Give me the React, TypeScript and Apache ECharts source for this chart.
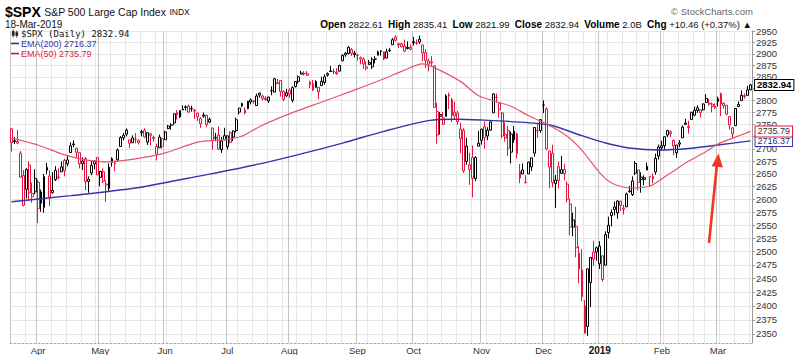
import React, { useEffect, useRef } from "react";
import * as echarts from "echarts";

// ---------- DATA ----------
// rows: [date, open, high, low, close]
const MAR_2018: [string, number, number, number, number][] = [
  ["2018-03-19", 2741.38, 2741.38, 2694.59, 2712.92],
  ["2018-03-20", 2715.05, 2724.22, 2710.05, 2716.94],
  ["2018-03-21", 2714.99, 2739.14, 2709.79, 2711.93],
  ["2018-03-22", 2691.36, 2695.68, 2641.59, 2643.69],
  ["2018-03-23", 2646.71, 2657.67, 2585.89, 2588.26],
  ["2018-03-26", 2619.35, 2661.36, 2601.81, 2658.55],
  ["2018-03-27", 2667.57, 2674.78, 2596.12, 2612.62],
  ["2018-03-28", 2611.3, 2632.65, 2593.06, 2605.0],
  ["2018-03-29", 2614.41, 2659.07, 2609.72, 2640.87],
];
const APR_2018: [string, number, number, number, number][] = [
  ["2018-04-02", 2633.45, 2638.3, 2553.8, 2581.88],
  ["2018-04-03", 2592.17, 2619.14, 2575.49, 2614.45],
  ["2018-04-04", 2584.04, 2649.86, 2573.61, 2644.69],
  ["2018-04-05", 2657.36, 2672.08, 2649.58, 2662.84],
  ["2018-04-06", 2645.82, 2656.88, 2586.27, 2604.47],
  ["2018-04-09", 2617.18, 2653.55, 2610.79, 2613.16],
  ["2018-04-10", 2638.41, 2665.45, 2635.78, 2656.87],
  ["2018-04-11", 2643.89, 2661.43, 2639.25, 2642.19],
  ["2018-04-12", 2653.83, 2674.72, 2653.83, 2663.99],
  ["2018-04-13", 2676.9, 2680.26, 2645.05, 2656.3],
  ["2018-04-16", 2670.1, 2686.49, 2665.16, 2677.84],
  ["2018-04-17", 2692.74, 2713.34, 2692.05, 2706.39],
  ["2018-04-18", 2710.11, 2717.49, 2703.63, 2708.64],
  ["2018-04-19", 2701.16, 2702.84, 2681.9, 2693.13],
  ["2018-04-20", 2692.56, 2693.94, 2660.61, 2670.14],
  ["2018-04-23", 2675.4, 2682.86, 2657.99, 2670.29],
  ["2018-04-24", 2680.8, 2683.55, 2617.32, 2634.56],
  ["2018-04-25", 2634.92, 2645.3, 2612.67, 2639.4],
  ["2018-04-26", 2651.65, 2676.48, 2647.16, 2666.94],
  ["2018-04-27", 2675.47, 2677.35, 2659.01, 2669.91],
  ["2018-04-30", 2682.51, 2682.87, 2648.04, 2648.05],
];
const MAY_2018: [string, number, number, number, number][] = [
  ["2018-05-01", 2642.96, 2655.27, 2625.41, 2654.8],
  ["2018-05-02", 2654.24, 2660.87, 2631.7, 2635.67],
  ["2018-05-03", 2628.08, 2637.14, 2594.62, 2629.73],
  ["2018-05-04", 2621.45, 2670.93, 2615.32, 2663.42],
  ["2018-05-07", 2680.34, 2683.35, 2664.7, 2672.63],
  ["2018-05-08", 2670.26, 2676.34, 2655.2, 2671.92],
  ["2018-05-09", 2678.12, 2701.27, 2674.14, 2697.79],
  ["2018-05-10", 2705.02, 2726.11, 2704.54, 2723.07],
  ["2018-05-11", 2722.7, 2732.86, 2717.45, 2727.72],
  ["2018-05-14", 2738.47, 2742.1, 2725.47, 2730.13],
  ["2018-05-15", 2718.59, 2718.59, 2701.91, 2711.45],
  ["2018-05-16", 2712.62, 2727.76, 2712.17, 2722.46],
  ["2018-05-17", 2719.71, 2731.96, 2711.36, 2720.13],
  ["2018-05-18", 2717.35, 2719.5, 2709.18, 2712.97],
  ["2018-05-21", 2735.39, 2739.19, 2725.7, 2733.01],
  ["2018-05-22", 2738.34, 2742.24, 2721.88, 2724.44],
  ["2018-05-23", 2713.98, 2733.33, 2707.98, 2733.29],
  ["2018-05-24", 2730.94, 2731.97, 2707.38, 2727.76],
  ["2018-05-25", 2723.6, 2727.36, 2714.99, 2721.33],
  ["2018-05-29", 2705.11, 2710.67, 2676.81, 2689.86],
  ["2018-05-30", 2702.43, 2729.34, 2702.43, 2724.01],
  ["2018-05-31", 2720.98, 2722.5, 2700.68, 2705.27],
];
const JUN_2018: [string, number, number, number, number][] = [
  ["2018-06-01", 2718.7, 2736.93, 2718.7, 2734.62],
  ["2018-06-04", 2741.67, 2749.16, 2740.54, 2746.87],
  ["2018-06-05", 2748.46, 2752.61, 2739.51, 2748.8],
  ["2018-06-06", 2753.25, 2772.39, 2748.46, 2772.35],
  ["2018-06-07", 2774.84, 2779.9, 2760.16, 2770.37],
  ["2018-06-08", 2765.84, 2779.39, 2763.59, 2779.03],
  ["2018-06-11", 2780.18, 2790.21, 2780.17, 2782.0],
  ["2018-06-12", 2785.6, 2789.8, 2778.78, 2786.85],
  ["2018-06-13", 2787.94, 2791.47, 2774.65, 2775.63],
  ["2018-06-14", 2783.21, 2789.06, 2776.52, 2782.49],
  ["2018-06-15", 2777.78, 2782.81, 2761.73, 2779.66],
  ["2018-06-18", 2765.79, 2774.99, 2757.12, 2773.75],
  ["2018-06-19", 2752.01, 2765.05, 2743.19, 2762.59],
  ["2018-06-20", 2769.73, 2774.86, 2763.91, 2767.32],
  ["2018-06-21", 2769.28, 2769.28, 2744.39, 2749.76],
  ["2018-06-22", 2760.79, 2764.17, 2752.68, 2754.88],
  ["2018-06-25", 2742.94, 2742.94, 2698.67, 2717.07],
  ["2018-06-26", 2722.12, 2732.91, 2715.6, 2723.06],
  ["2018-06-27", 2728.45, 2746.09, 2699.38, 2699.63],
  ["2018-06-28", 2698.69, 2724.34, 2691.99, 2716.31],
  ["2018-06-29", 2727.13, 2743.26, 2718.03, 2718.37],
];
const JUL_2018: [string, number, number, number, number][] = [
  ["2018-07-02", 2704.95, 2727.26, 2698.95, 2726.71],
  ["2018-07-03", 2733.27, 2736.58, 2711.16, 2713.22],
  ["2018-07-05", 2724.19, 2737.83, 2716.02, 2736.61],
  ["2018-07-06", 2737.68, 2764.41, 2733.52, 2759.82],
  ["2018-07-09", 2775.62, 2784.65, 2770.73, 2784.17],
  ["2018-07-10", 2788.56, 2795.58, 2786.24, 2793.84],
  ["2018-07-11", 2779.82, 2785.91, 2770.77, 2774.02],
  ["2018-07-12", 2783.14, 2799.22, 2781.53, 2798.29],
  ["2018-07-13", 2796.93, 2804.53, 2791.69, 2801.31],
  ["2018-07-16", 2798.96, 2801.19, 2793.39, 2798.43],
  ["2018-07-17", 2789.34, 2814.19, 2789.24, 2809.55],
  ["2018-07-18", 2811.35, 2816.76, 2805.89, 2815.62],
  ["2018-07-19", 2809.37, 2812.05, 2799.77, 2804.49],
  ["2018-07-20", 2804.55, 2809.7, 2800.01, 2801.83],
  ["2018-07-23", 2799.17, 2808.61, 2795.14, 2806.98],
  ["2018-07-24", 2820.68, 2829.99, 2811.12, 2820.4],
  ["2018-07-25", 2817.73, 2848.03, 2817.73, 2846.07],
  ["2018-07-26", 2835.49, 2845.57, 2835.26, 2837.44],
  ["2018-07-27", 2842.35, 2843.17, 2808.34, 2818.82],
  ["2018-07-30", 2819.0, 2821.74, 2798.11, 2802.6],
  ["2018-07-31", 2809.73, 2824.46, 2808.06, 2816.29],
];
const AUG_2018: [string, number, number, number, number][] = [
  ["2018-08-01", 2821.17, 2825.83, 2805.85, 2813.36],
  ["2018-08-02", 2800.48, 2829.91, 2796.34, 2827.22],
  ["2018-08-03", 2829.62, 2840.38, 2827.37, 2840.35],
  ["2018-08-06", 2840.29, 2853.29, 2835.98, 2850.4],
  ["2018-08-07", 2855.92, 2863.43, 2855.92, 2858.45],
  ["2018-08-08", 2856.79, 2862.44, 2853.09, 2857.7],
  ["2018-08-09", 2857.19, 2862.48, 2851.98, 2853.58],
  ["2018-08-10", 2838.9, 2842.2, 2825.81, 2833.28],
  ["2018-08-13", 2835.46, 2843.4, 2819.88, 2821.93],
  ["2018-08-14", 2827.88, 2843.11, 2826.58, 2839.96],
  ["2018-08-15", 2827.95, 2827.95, 2802.49, 2818.37],
  ["2018-08-16", 2831.44, 2850.49, 2831.44, 2840.69],
  ["2018-08-17", 2838.32, 2855.63, 2833.73, 2850.13],
  ["2018-08-20", 2853.93, 2859.76, 2850.62, 2857.05],
  ["2018-08-21", 2861.51, 2873.23, 2861.32, 2862.96],
  ["2018-08-22", 2860.99, 2867.54, 2856.05, 2861.82],
  ["2018-08-23", 2860.29, 2868.78, 2854.03, 2856.98],
  ["2018-08-24", 2862.35, 2876.16, 2862.35, 2874.69],
  ["2018-08-27", 2884.69, 2898.25, 2884.69, 2896.74],
  ["2018-08-28", 2901.45, 2903.77, 2893.5, 2897.52],
  ["2018-08-29", 2900.62, 2916.5, 2898.4, 2914.04],
  ["2018-08-30", 2908.94, 2912.46, 2895.22, 2901.13],
  ["2018-08-31", 2898.37, 2906.32, 2891.73, 2901.52],
];
const SEP_2018: [string, number, number, number, number][] = [
  ["2018-09-04", 2896.96, 2900.18, 2885.13, 2896.72],
  ["2018-09-05", 2891.59, 2894.21, 2876.92, 2888.6],
  ["2018-09-06", 2888.64, 2892.05, 2867.29, 2878.05],
  ["2018-09-07", 2868.26, 2883.81, 2864.12, 2871.68],
  ["2018-09-10", 2881.39, 2886.93, 2875.94, 2877.13],
  ["2018-09-11", 2871.57, 2892.52, 2866.78, 2887.89],
  ["2018-09-12", 2888.29, 2894.65, 2879.2, 2888.92],
  ["2018-09-13", 2896.85, 2906.76, 2896.39, 2904.18],
  ["2018-09-14", 2906.38, 2908.3, 2895.77, 2904.98],
  ["2018-09-17", 2903.83, 2904.65, 2886.16, 2888.8],
  ["2018-09-18", 2890.74, 2911.17, 2890.43, 2904.31],
  ["2018-09-19", 2906.6, 2912.36, 2903.82, 2907.95],
  ["2018-09-20", 2919.73, 2934.8, 2919.73, 2930.75],
  ["2018-09-21", 2936.76, 2940.91, 2927.11, 2929.67],
  ["2018-09-24", 2921.83, 2923.79, 2912.63, 2919.37],
  ["2018-09-25", 2921.75, 2923.95, 2913.7, 2915.56],
  ["2018-09-26", 2916.98, 2931.15, 2903.28, 2905.97],
  ["2018-09-27", 2911.65, 2927.22, 2909.27, 2914.0],
  ["2018-09-28", 2910.03, 2920.53, 2907.5, 2913.98],
];
const OCT_2018: [string, number, number, number, number][] = [
  ["2018-10-01", 2926.29, 2937.06, 2917.91, 2924.59],
  ["2018-10-02", 2923.8, 2931.42, 2919.37, 2923.43],
  ["2018-10-03", 2931.69, 2939.86, 2921.36, 2925.51],
  ["2018-10-04", 2919.35, 2919.78, 2883.92, 2901.61],
  ["2018-10-05", 2902.54, 2909.64, 2869.29, 2885.57],
  ["2018-10-08", 2877.53, 2889.45, 2862.08, 2884.43],
  ["2018-10-09", 2882.51, 2894.83, 2874.27, 2880.34],
  ["2018-10-10", 2873.9, 2874.02, 2784.86, 2785.68],
  ["2018-10-11", 2776.87, 2795.14, 2710.51, 2728.37],
  ["2018-10-12", 2770.54, 2775.77, 2729.44, 2767.13],
  ["2018-10-15", 2763.83, 2775.99, 2749.03, 2750.79],
  ["2018-10-16", 2767.05, 2813.46, 2766.91, 2809.92],
  ["2018-10-17", 2811.67, 2816.94, 2781.81, 2809.21],
  ["2018-10-18", 2802.0, 2806.04, 2755.18, 2768.78],
  ["2018-10-19", 2775.66, 2797.77, 2760.27, 2767.78],
  ["2018-10-22", 2773.94, 2778.94, 2749.22, 2755.88],
  ["2018-10-23", 2721.03, 2753.59, 2691.43, 2740.69],
  ["2018-10-24", 2737.87, 2742.59, 2651.89, 2656.1],
  ["2018-10-25", 2674.88, 2722.7, 2667.84, 2705.57],
  ["2018-10-26", 2667.86, 2692.38, 2628.16, 2658.69],
  ["2018-10-29", 2682.65, 2706.85, 2603.54, 2641.25],
  ["2018-10-30", 2640.68, 2685.43, 2635.34, 2682.63],
  ["2018-10-31", 2705.6, 2736.69, 2705.6, 2711.74],
];
const NOV_2018: [string, number, number, number, number][] = [
  ["2018-11-01", 2717.58, 2741.67, 2708.85, 2740.37],
  ["2018-11-02", 2745.45, 2756.55, 2700.44, 2723.06],
  ["2018-11-05", 2726.37, 2744.27, 2717.94, 2738.31],
  ["2018-11-06", 2738.4, 2756.82, 2737.08, 2755.45],
  ["2018-11-07", 2774.13, 2815.15, 2774.13, 2813.89],
  ["2018-11-08", 2806.38, 2814.75, 2794.99, 2806.83],
  ["2018-11-09", 2794.1, 2794.1, 2764.24, 2781.01],
  ["2018-11-12", 2773.93, 2775.99, 2722.0, 2726.22],
  ["2018-11-13", 2730.05, 2754.6, 2714.98, 2722.18],
  ["2018-11-14", 2737.9, 2746.8, 2685.75, 2701.58],
  ["2018-11-15", 2693.52, 2735.38, 2670.75, 2730.2],
  ["2018-11-16", 2718.54, 2746.75, 2712.16, 2736.27],
  ["2018-11-19", 2730.74, 2733.16, 2681.09, 2690.73],
  ["2018-11-20", 2654.6, 2669.44, 2631.52, 2641.89],
  ["2018-11-21", 2657.74, 2670.73, 2649.82, 2649.93],
  ["2018-11-23", 2633.36, 2647.55, 2631.09, 2632.56],
  ["2018-11-26", 2649.97, 2674.35, 2649.97, 2673.45],
  ["2018-11-27", 2663.75, 2682.53, 2655.89, 2682.17],
  ["2018-11-28", 2691.45, 2744.0, 2684.38, 2743.79],
  ["2018-11-29", 2736.97, 2753.75, 2722.94, 2737.8],
  ["2018-11-30", 2737.76, 2760.88, 2732.76, 2760.17],
];
const DEC_2018: [string, number, number, number, number][] = [
  ["2018-12-03", 2790.5, 2800.18, 2773.38, 2790.37],
  ["2018-12-04", 2782.43, 2785.93, 2697.18, 2700.06],
  ["2018-12-06", 2663.51, 2696.15, 2621.53, 2695.95],
  ["2018-12-07", 2691.26, 2708.54, 2623.14, 2633.08],
  ["2018-12-10", 2630.86, 2647.51, 2583.23, 2637.72],
  ["2018-12-11", 2664.44, 2674.35, 2621.3, 2636.78],
  ["2018-12-12", 2658.23, 2685.44, 2650.26, 2651.07],
  ["2018-12-13", 2658.7, 2670.19, 2637.27, 2650.54],
  ["2018-12-14", 2629.68, 2635.07, 2593.84, 2599.95],
  ["2018-12-17", 2590.75, 2601.13, 2530.54, 2545.94],
  ["2018-12-18", 2559.9, 2573.99, 2528.71, 2546.16],
  ["2018-12-19", 2547.05, 2585.29, 2488.96, 2506.96],
  ["2018-12-20", 2496.77, 2509.63, 2441.18, 2467.42],
  ["2018-12-21", 2465.38, 2504.41, 2408.55, 2416.62],
  ["2018-12-24", 2400.56, 2410.34, 2351.1, 2351.1],
  ["2018-12-26", 2363.12, 2467.76, 2346.58, 2467.7],
  ["2018-12-27", 2442.5, 2489.1, 2397.94, 2488.83],
  ["2018-12-28", 2498.77, 2520.27, 2472.89, 2485.74],
  ["2018-12-31", 2498.94, 2509.24, 2482.82, 2506.85],
];
const JAN_2019: [string, number, number, number, number][] = [
  ["2019-01-02", 2476.96, 2519.49, 2467.47, 2510.03],
  ["2019-01-03", 2491.92, 2493.14, 2443.96, 2447.89],
  ["2019-01-04", 2474.33, 2538.07, 2474.33, 2531.94],
  ["2019-01-07", 2535.61, 2566.16, 2524.56, 2549.69],
  ["2019-01-08", 2568.11, 2579.82, 2547.56, 2574.41],
  ["2019-01-09", 2580.0, 2595.32, 2568.89, 2584.96],
  ["2019-01-10", 2573.51, 2597.82, 2562.02, 2596.64],
  ["2019-01-11", 2588.11, 2596.27, 2577.4, 2596.26],
  ["2019-01-14", 2580.31, 2589.32, 2570.41, 2582.61],
  ["2019-01-15", 2585.1, 2613.08, 2585.1, 2610.3],
  ["2019-01-16", 2614.75, 2625.76, 2612.68, 2616.1],
  ["2019-01-17", 2609.28, 2645.06, 2606.36, 2635.96],
  ["2019-01-18", 2651.27, 2675.47, 2647.58, 2670.71],
  ["2019-01-22", 2657.88, 2657.88, 2617.27, 2632.9],
  ["2019-01-23", 2643.48, 2653.19, 2612.86, 2638.7],
  ["2019-01-24", 2638.84, 2647.2, 2627.01, 2642.33],
  ["2019-01-25", 2657.44, 2672.38, 2657.33, 2664.76],
  ["2019-01-28", 2644.97, 2644.97, 2624.06, 2643.85],
  ["2019-01-29", 2644.89, 2650.93, 2631.05, 2640.0],
  ["2019-01-30", 2653.62, 2690.44, 2648.34, 2681.05],
  ["2019-01-31", 2685.49, 2708.95, 2678.65, 2704.1],
];
const FEB_2019: [string, number, number, number, number][] = [
  ["2019-02-01", 2702.32, 2716.66, 2696.88, 2706.53],
  ["2019-02-04", 2706.49, 2724.99, 2698.75, 2724.87],
  ["2019-02-05", 2728.34, 2738.98, 2724.03, 2737.7],
  ["2019-02-06", 2735.05, 2738.08, 2724.15, 2731.61],
  ["2019-02-07", 2717.53, 2719.32, 2687.26, 2706.05],
  ["2019-02-08", 2692.36, 2708.07, 2681.83, 2707.88],
  ["2019-02-11", 2712.4, 2718.05, 2703.79, 2709.8],
  ["2019-02-12", 2722.61, 2748.19, 2722.61, 2744.73],
  ["2019-02-13", 2750.3, 2761.85, 2748.63, 2753.03],
  ["2019-02-14", 2743.5, 2757.9, 2731.23, 2745.73],
  ["2019-02-15", 2760.24, 2775.66, 2760.24, 2775.6],
  ["2019-02-19", 2769.28, 2787.33, 2767.29, 2779.76],
  ["2019-02-20", 2779.05, 2789.88, 2774.06, 2784.7],
  ["2019-02-21", 2780.67, 2781.58, 2764.55, 2774.88],
  ["2019-02-22", 2780.67, 2794.2, 2779.11, 2792.67],
  ["2019-02-25", 2804.35, 2813.49, 2794.99, 2796.11],
  ["2019-02-26", 2792.36, 2803.12, 2789.47, 2793.9],
  ["2019-02-27", 2787.5, 2795.76, 2775.13, 2792.38],
  ["2019-02-28", 2788.11, 2793.73, 2782.51, 2784.49],
];
const MAR_2019: [string, number, number, number, number][] = [
  ["2019-03-01", 2798.22, 2808.02, 2787.38, 2803.69],
  ["2019-03-04", 2814.37, 2816.88, 2767.66, 2792.81],
  ["2019-03-05", 2794.41, 2796.44, 2782.97, 2789.65],
  ["2019-03-06", 2790.27, 2790.27, 2768.69, 2771.45],
  ["2019-03-07", 2766.53, 2767.25, 2739.09, 2748.93],
  ["2019-03-08", 2730.79, 2744.13, 2722.27, 2743.07],
  ["2019-03-11", 2747.61, 2784.0, 2747.61, 2783.3],
  ["2019-03-12", 2787.34, 2798.32, 2786.73, 2791.52],
  ["2019-03-13", 2799.78, 2821.24, 2799.78, 2810.92],
  ["2019-03-14", 2810.38, 2815.0, 2803.46, 2808.48],
  ["2019-03-15", 2810.79, 2830.73, 2810.79, 2822.48],
  ["2019-03-18", 2822.61, 2835.41, 2821.99, 2832.94],
];
const PREV_CLOSE = 2752.01; // close before the first candle
const VOLUME = "2.0B";

// EMA readings [date, value]
const EMA200: [string, number][] = [
  ["2018-03-19", 2595], ["2018-04-17", 2607], ["2018-05-17", 2622], ["2018-06-18", 2645],
  ["2018-07-18", 2670], ["2018-08-07", 2690], ["2018-08-27", 2712], ["2018-09-17", 2736],
  ["2018-10-08", 2758], ["2018-10-22", 2761], ["2018-11-02", 2759], ["2018-11-15", 2756],
  ["2018-12-06", 2749], ["2018-12-21", 2727], ["2019-01-04", 2712], ["2019-01-16", 2702],
  ["2019-01-31", 2698], ["2019-02-14", 2701], ["2019-03-01", 2708], ["2019-03-18", 2716.37],
];
const EMA50: [string, number][] = [
  ["2018-03-19", 2722], ["2018-04-02", 2708], ["2018-04-12", 2690], ["2018-04-23", 2679],
  ["2018-05-03", 2674], ["2018-05-17", 2680], ["2018-06-01", 2692], ["2018-06-18", 2714],
  ["2018-06-29", 2719], ["2018-07-10", 2726], ["2018-07-18", 2746], ["2018-08-01", 2772],
  ["2018-08-16", 2797], ["2018-08-31", 2822], ["2018-09-17", 2846], ["2018-09-25", 2862],
  ["2018-10-04", 2878], ["2018-10-10", 2870], ["2018-10-23", 2840], ["2018-10-31", 2810],
  ["2018-11-08", 2798], ["2018-11-15", 2788], ["2018-11-26", 2768], ["2018-12-06", 2748],
  ["2018-12-14", 2726], ["2018-12-21", 2697], ["2019-01-02", 2652], ["2019-01-08", 2632],
  ["2019-01-16", 2622], ["2019-01-28", 2626], ["2019-02-05", 2648], ["2019-02-14", 2675],
  ["2019-02-25", 2695], ["2019-03-01", 2710], ["2019-03-08", 2722], ["2019-03-18", 2735.79],
];

// gridlines / ticks every 25; labels skip the two hidden behind the price tags
const Y_TICKS = [
  2350, 2375, 2400, 2425, 2450, 2475, 2500, 2525, 2550, 2575, 2600, 2625, 2650,
  2675, 2700, 2725, 2750, 2775, 2800, 2825, 2850, 2875, 2900, 2925, 2950,
];
const Y_LABELS = [
  2350, 2375, 2400, 2425, 2450, 2475, 2500, 2525, 2550, 2575, 2600, 2625, 2650,
  2675, 2700, 2750, 2775, 2800, 2850, 2875, 2900, 2925, 2950,
];
const MONTH_NAMES = ["Jan", "Feb", "Mar", "Apr", "May", "Jun", "Jul", "Aug", "Sep", "Oct", "Nov", "Dec"];

// ---------- STYLE ----------
const RED = "#e3173e";
const BLACK = "#000000";
const BLUE = "#3535a6";
const PINK = "#e45570";
const ARROW = "#f2361f";
const FONT = "'Liberation Sans', Arial, sans-serif";
const SPX_NAME = "$SPX (Daily)";

export default function App() {
  const ref = useRef<HTMLDivElement>(null);

  useEffect(() => {
    if (!ref.current) return;
    const chart = echarts.init(ref.current, undefined, { renderer: "svg" });

    const rows = [
      ...MAR_2018, ...APR_2018, ...MAY_2018, ...JUN_2018, ...JUL_2018, ...AUG_2018,
      ...SEP_2018, ...OCT_2018, ...NOV_2018, ...DEC_2018, ...JAN_2019, ...FEB_2019, ...MAR_2019,
    ];
    const dates = rows.map((r) => r[0]);
    const month = (d: string) => parseInt(d.slice(5, 7), 10) - 1;
    const weekday = (d: string) => new Date(d + "T00:00:00Z").getUTCDay();
    const isMonthStart = dates.map((d, i) => i > 0 && month(d) !== month(dates[i - 1]));
    const isWeekStart = dates.map((d, i) => i === 0 || weekday(d) <= weekday(dates[i - 1]));

    const candles = rows.map((r, i) => {
      const [, o, h, l, c] = r;
      const prev = i === 0 ? PREV_CLOSE : rows[i - 1][4];
      const col = c >= prev ? BLACK : RED;
      return {
        value: [o, c, l, h],
        itemStyle: { color: "#ffffff", color0: col, borderColor: col, borderColor0: col },
      };
    });

    const last = rows[rows.length - 1];
    const prevLast = rows[rows.length - 2][4];
    const chg = last[4] - prevLast;
    const chgPct = (chg / prevLast) * 100;
    const ema200Last = EMA200[EMA200.length - 1][1];
    const ema50Last = EMA50[EMA50.length - 1][1];

    const labelBox = (border: string, color: string, bold = false) => ({
      color,
      fontFamily: FONT,
      fontSize: 9,
      lineHeight: 9,
      fontWeight: bold ? "bold" : "normal",
      backgroundColor: "#ffffff",
      borderColor: border,
      borderWidth: 1,
      padding: [1, 2, 0, 2],
    });

    chart.setOption({
      animation: false,
      backgroundColor: "#ffffff",
      textStyle: { fontFamily: FONT },
      grid: { left: 10, right: 48, top: 31, bottom: 12, containLabel: false },
      legend: {
        orient: "vertical",
        left: 11,
        top: 29,
        padding: 0,
        itemGap: 1,
        itemWidth: 8,
        itemHeight: 8,
        selectedMode: false,
        textStyle: { fontFamily: FONT, fontSize: 9, padding: [0, 0, 0, -3] },
        data: [
          {
            name: SPX_NAME,
            icon: "path://M1,0h1v2h1v5h-1v2h-1v-2h-1v-5h1z M5,1h1v2h1v4h-1v2h-1v-2h-1v-4h1z",
            itemStyle: { color: "#222", borderWidth: 0 },
            textStyle: { color: "#111", fontFamily: "'DejaVu Sans Mono', monospace", fontSize: 9 },
          },
          { name: "EMA(200)", icon: "path://M0,0h10v2h-10z", itemStyle: { color: BLUE }, textStyle: { color: BLUE } },
          { name: "EMA(50)", icon: "path://M0,0h10v2h-10z", itemStyle: { color: RED }, textStyle: { color: RED } },
        ],
        formatter: (name: string) => {
          if (name === SPX_NAME) return `${name} ${last[4].toFixed(2)}`;
          if (name === "EMA(200)") return `${name} ${ema200Last.toFixed(2)}`;
          return `${name} ${ema50Last.toFixed(2)}`;
        },
      },
      xAxis: [
        {
          type: "category",
          data: dates,
          position: "top",
          boundaryGap: true,
          axisLine: { show: false },
          axisTick: { show: false },
          axisLabel: { show: false },
          splitLine: {
            show: true,
            interval: (i: number) => isWeekStart[i] && !isMonthStart[i],
            lineStyle: { color: "#e6e6e6", width: 1 },
          },
        },
        {
          type: "category",
          data: dates,
          position: "bottom",
          boundaryGap: true,
          axisLine: { show: true, lineStyle: { color: "#aaaaaa", type: [2, 2], width: 1 } },
          axisTick: { show: false },
          axisLabel: {
            interval: (i: number) => isMonthStart[i],
            fontSize: 9.5,
            color: "#333",
            margin: 2,
            formatter: (v: string) => (month(v) === 0 ? `{y|${v.slice(0, 4)}}` : MONTH_NAMES[month(v)]),
            rich: { y: { fontWeight: "bold", fontSize: 10, color: "#111" } },
          },
          splitLine: {
            show: true,
            interval: (i: number) => i === 0 || isMonthStart[i],
            lineStyle: { color: "#c4c4c4", width: 1 },
          },
        },
      ],
      yAxis: {
        type: "log",
        logBase: 10,
        min: 2334,
        max: 2950,
        position: "right",
        axisLine: { show: true, lineStyle: { color: "#999" } },
        axisTick: { show: true, length: 3, customValues: Y_TICKS, lineStyle: { color: "#999" } },
        axisLabel: {
          customValues: Y_LABELS,
          fontSize: 9.5,
          color: "#333",
          margin: 4,
          formatter: (v: number) => String(Math.round(v)),
        },
        splitLine: { show: true, lineStyle: { color: "#e6e6e6" } },
      },
      series: [
        {
          name: SPX_NAME,
          type: "candlestick",
          xAxisIndex: 1,
          barWidth: "80%",
          itemStyle: { borderWidth: 1 },
          data: candles,
          markPoint: {
            symbol: "rect",
            symbolSize: 1,
            itemStyle: { color: "rgba(0,0,0,0)" },
            label: {
              show: true,
              position: "right",
              distance: 4,
              formatter: () => last[4].toFixed(2),
              ...labelBox("#000", "#000", true),
              fontSize: 9.5,
            },
            data: [{ coord: [last[0], last[4]] }],
          },
          z: 3,
        },
        {
          name: "EMA(200)",
          type: "line",
          xAxisIndex: 1,
          data: EMA200,
          symbol: "none",
          smooth: 0.25,
          lineStyle: { color: BLUE, width: 1.4 },
          itemStyle: { color: BLUE },
          endLabel: {
            show: true,
            distance: 5,
            formatter: () => ema200Last.toFixed(2),
            ...labelBox(BLUE, "#2a2a80"),
          },
          z: 4,
        },
        {
          name: "EMA(50)",
          type: "line",
          xAxisIndex: 1,
          data: EMA50,
          symbol: "none",
          smooth: 0.25,
          lineStyle: { color: PINK, width: 1.2 },
          itemStyle: { color: PINK },
          endLabel: {
            show: true,
            distance: 5,
            formatter: () => ema50Last.toFixed(2),
            ...labelBox(RED, "#333"),
          },
          z: 4,
        },
      ],
      graphic: [
        {
          type: "text",
          x: 5,
          y: 12,
          style: {
            text: "{t|$SPX} {n|S&P 500 Large Cap Index} {s|INDX}",
            verticalAlign: "middle",
            rich: {
              t: { fontFamily: FONT, fontWeight: "bold", fontSize: 14, fill: "#000" },
              n: { fontFamily: FONT, fontSize: 10.5, fill: "#111" },
              s: { fontFamily: FONT, fontSize: 8.5, fill: "#111" },
            },
          },
        },
        {
          type: "text",
          x: 5,
          y: 24,
          style: { text: "18-Mar-2019", font: `10px ${FONT}`, fill: "#111", verticalAlign: "middle" },
        },
        {
          type: "text",
          x: 753,
          y: 11,
          style: { text: "© StockCharts.com", font: `9.5px ${FONT}`, fill: "#666", align: "right", verticalAlign: "middle" },
        },
        {
          type: "text",
          x: 752,
          y: 24,
          style: {
            text:
              `{b|Open} ${last[1].toFixed(2)}  {b|High} ${last[2].toFixed(2)}  {b|Low} ${last[3].toFixed(2)}  ` +
              `{b|Close} ${last[4].toFixed(2)}  {b|Volume} ${VOLUME}  {b|Chg} ${chg >= 0 ? "+" : ""}${chg.toFixed(2)} ` +
              `(${chg >= 0 ? "+" : ""}${chgPct.toFixed(2)}%) ${chg >= 0 ? "▲" : "▼"}`,
            font: `9.5px ${FONT}`,
            fill: "#111",
            align: "right",
            verticalAlign: "middle",
            rich: { b: { fontFamily: FONT, fontWeight: "bold", fontSize: 10, fill: "#000" } },
          },
        },
        {
          type: "line",
          shape: { x1: 709, y1: 243, x2: 716.8, y2: 166 },
          style: { stroke: ARROW, lineWidth: 2.6 },
          z: 100,
        },
        {
          type: "polygon",
          shape: { points: [[718.4, 153.5], [723, 167.5], [711.6, 166.3]] },
          style: { fill: ARROW },
          z: 100,
        },
      ],
    });

    return () => chart.dispose();
  }, []);

  return (
    <div
      ref={ref}
      style={{ position: "fixed", left: 0, top: 0, width: 800, height: 355, background: "#fff" }}
    />
  );
}
